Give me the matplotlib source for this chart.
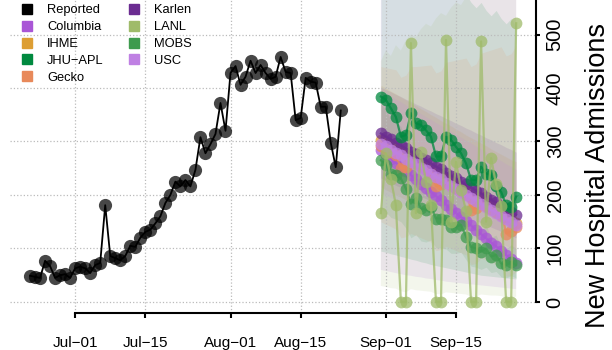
import numpy as np
import pandas as pd
import matplotlib
matplotlib.use('Agg')
import matplotlib.pyplot as plt
import matplotlib.dates as mdates
from matplotlib.patches import Patch

plt.rcParams['font.family'] = ['Liberation Sans', 'DejaVu Sans']

# observed daily admissions
reported_start = '2021-06-22'
reported = [49, 47, 45, 77, 67, 45, 50, 52, 45, 63, 66, 63, 54, 69, 73, 181, 86, 82, 78, 86,
            105, 103, 120, 131, 135, 147, 160, 185, 200,
            225, 216, 228, 216, 247, 308, 278, 295, 314, 372, 320, 428, 441, 406, 421, 451,
            428, 443, 428, 417, 421, 458, 430, 428, 340, 344, 419, 412, 410, 365, 365, 298, 252, 358]

# forecasts (Aug 31 - Sep 27)
forecast_start = '2021-08-31'
columbia = [284, 276, 268, 260, 253, 245, 237, 229, 221, 213, 205, 198, 190, 182,
            174, 166, 158, 151, 143, 135, 127, 119, 111, 104, 96, 88, 80, 72]
ihme = [302, 296, 290, 284, 278, 272, 266, 260, 254, 248, 242, 236, 230, 224,
        219, 213, 207, 201, 196, 190, 185, 179, 174, 168, 163, 158, 153, 148]
jhu_apl = [384, 378, 362, 346, 309, 312, 353, 334, 331, 321, 309, 272, 272, 309,
           303, 290, 278, 259, 228, 228, 253, 240, 237, 216, 206, 181, 178, 197]
gecko = [292, 286, 280, 275, 250, 252, 266, 260, 255, 249, 243, 216, 220, 232,
         226, 220, 214, 208, 172, 176, 196, 190, 184, 178, 172, 128, 132, 140]
karlen = [315, 309, 304, 298, 293, 287, 281, 276, 270, 265, 259, 253, 248, 242,
          236, 231, 225, 220, 214, 208, 203, 197, 191, 186, 180, 175, 169, 163]
lanl = [166, 278, 230, 181, 0, 0, 484, 166, 280, 225, 181, 0, 0, 490,
        150, 262, 210, 170, 0, 0, 487, 150, 269, 220, 180, 0, 0, 521]
mobs = [265, 256, 240, 237, 231, 212, 184, 194, 175, 172, 178, 156, 156, 153,
        141, 141, 144, 122, 103, 100, 94, 100, 85, 88, 72, 69, 75, 69]
usc = [296, 291, 285, 279, 274, 268, 262, 257, 251, 246, 240, 234, 229, 223,
       217, 212, 206, 200, 195, 189, 183, 178, 172, 167, 161, 155, 150, 144]

# prediction intervals
columbia_lo = [60, 58, 56, 54, 52, 50, 49, 47, 46, 44, 43, 41, 40, 38,
               37, 36, 35, 34, 33, 32, 31, 30, 29, 28, 27, 26, 25, 24]
columbia_hi = [620, 630, 640, 650, 655, 660, 665, 670, 675, 680, 685, 690, 690, 695,
               700, 700, 705, 705, 710, 710, 715, 715, 720, 720, 725, 725, 730, 730]
jhu_apl_lo = [95, 93, 90, 88, 85, 83, 80, 78, 75, 73, 70, 68, 66, 64,
              62, 60, 58, 56, 54, 52, 50, 49, 48, 47, 46, 45, 44, 43]
jhu_apl_hi = [600, 610, 595, 605, 590, 600, 610, 595, 585, 600, 590, 580, 595, 585,
              570, 580, 565, 575, 560, 550, 560, 545, 535, 545, 530, 520, 530, 515]
karlen_lo = [232, 227, 223, 218, 214, 210, 205, 201, 197, 193, 188, 184, 180, 176,
             172, 168, 164, 160, 156, 152, 148, 144, 140, 136, 132, 128, 124, 120]
karlen_hi = [402, 397, 393, 388, 384, 379, 375, 370, 366, 361, 357, 352, 348, 343,
             339, 334, 330, 325, 321, 316, 312, 307, 303, 298, 294, 289, 285, 280]
ihme_lo = [215, 210, 205, 200, 196, 191, 186, 182, 177, 172, 168, 163, 158, 154,
           150, 145, 141, 137, 133, 129, 125, 121, 117, 113, 109, 105, 101, 98]
ihme_hi = [405, 400, 394, 389, 383, 378, 372, 367, 361, 356, 350, 345, 339, 334,
           329, 323, 318, 312, 307, 302, 297, 292, 286, 281, 276, 271, 266, 262]
gecko_lo = [150, 145, 141, 136, 120, 122, 128, 124, 120, 116, 112, 96, 98, 104,
            100, 96, 92, 88, 70, 72, 82, 78, 74, 70, 66, 48, 50, 56]
gecko_hi = [440, 438, 436, 434, 420, 424, 440, 440, 441, 442, 443, 428, 432, 448,
            450, 452, 454, 456, 440, 445, 465, 468, 471, 474, 477, 460, 464, 480]
lanl_lo = [30, 28, 26, 25, 20, 18, 24, 22, 21, 20, 19, 15, 14, 18,
           17, 16, 15, 14, 10, 10, 14, 13, 12, 12, 11, 8, 8, 10]
lanl_hi = [450, 470, 460, 480, 470, 490, 500, 495, 510, 520, 515, 530, 540, 535,
           550, 560, 555, 570, 580, 590, 600, 610, 620, 640, 650, 660, 680, 700]
mobs_lo = [175, 168, 158, 155, 150, 138, 120, 126, 114, 112, 116, 101, 101, 99,
           91, 91, 93, 79, 67, 65, 61, 65, 55, 57, 47, 45, 49, 45]
mobs_hi = [370, 360, 340, 335, 328, 302, 262, 276, 250, 246, 254, 222, 222, 218,
           201, 201, 205, 174, 148, 143, 134, 143, 121, 125, 103, 99, 107, 99]
usc_lo = [205, 200, 195, 190, 186, 181, 176, 172, 167, 163, 158, 154, 149, 145,
          140, 136, 132, 127, 123, 119, 115, 111, 106, 102, 98, 94, 90, 86]
usc_hi = [395, 390, 385, 379, 374, 368, 363, 357, 352, 346, 341, 335, 330, 324,
          319, 313, 308, 302, 297, 291, 286, 280, 275, 269, 264, 258, 253, 248]

model_names = ['Columbia', 'IHME', 'JHU\u2212APL', 'Gecko', 'Karlen', 'LANL', 'MOBS', 'USC']
model_colors = ['#a956d6', '#dd9e33', '#00893f', '#e8895a', '#6b2c91', '#9fbb6a', '#3e9b4e', '#bf80e3']

series = {
    'Columbia': (columbia, columbia_lo, columbia_hi),
    'IHME': (ihme, ihme_lo, ihme_hi),
    'JHU\u2212APL': (jhu_apl, jhu_apl_lo, jhu_apl_hi),
    'Gecko': (gecko, gecko_lo, gecko_hi),
    'Karlen': (karlen, karlen_lo, karlen_hi),
    'LANL': (lanl, lanl_lo, lanl_hi),
    'MOBS': (mobs, mobs_lo, mobs_hi),
    'USC': (usc, usc_lo, usc_hi),
}
colors = dict(zip(model_names, model_colors))

tick_dates = ['2021-07-01', '2021-07-15', '2021-08-01', '2021-08-15', '2021-09-01', '2021-09-15']
tick_labels = ['Jul\u221201', 'Jul\u221215', 'Aug\u221201', 'Aug\u221215', 'Sep\u221201', 'Sep\u221215']
y_ticks = [0, 100, 200, 300, 400, 500]

rep_dates = pd.date_range(reported_start, periods=len(reported), freq='D')
fc_dates = pd.date_range(forecast_start, periods=len(columbia), freq='D')
tick_pos = mdates.date2num(pd.to_datetime(tick_dates))

fig = plt.figure(figsize=(6.12, 3.5), dpi=100)
ax = fig.add_axes([10 / 612, 37 / 350, 526 / 612, 313 / 350])

# intervals
for name in model_names:
    mid, lo, hi = series[name]
    ax.fill_between(fc_dates, lo, hi, color=colors[name], alpha=0.12, lw=0, zorder=1)

# grid
for t in tick_pos:
    ax.axvline(t, color='#bbbbbb', lw=0.9, ls=':', zorder=2)
for v in y_ticks:
    ax.axhline(v, color='#bbbbbb', lw=0.9, ls=':', zorder=2)

# observed
ax.plot(rep_dates, reported, color='black', lw=1.3, zorder=5)
ax.plot(rep_dates, reported, 'o', color='black', alpha=0.72, ms=9.5, mew=0, zorder=5)

# forecasts
draw_order = ['Columbia', 'IHME', 'Gecko', 'Karlen', 'USC', 'MOBS', 'JHU\u2212APL', 'LANL']
for i, name in enumerate(draw_order):
    mid = series[name][0]
    ax.plot(fc_dates, mid, '-o', color=colors[name], alpha=0.75, lw=1.6, ms=8.5, mew=0, zorder=6 + i)

x0 = mdates.date2num(pd.Timestamp('2021-06-18'))
x1 = mdates.date2num(pd.Timestamp('2021-09-30 23:00'))
ax.set_xlim(x0, x1)
ax.set_ylim(-20.6, 564.5)

ax.set_xticks(tick_pos)
ax.set_xticklabels(tick_labels, fontsize=11)
ax.yaxis.tick_right()
ax.set_yticks(y_ticks)
ax.set_yticklabels([str(v) for v in y_ticks], fontsize=14.5, rotation=90, va='center')

for s in ['top', 'left']:
    ax.spines[s].set_visible(False)
ax.spines['right'].set_linewidth(1.5)
ax.spines['bottom'].set_linewidth(1.5)
ax.spines['right'].set_bounds(0, 564.5)
ax.spines['bottom'].set_bounds(tick_pos[0], tick_pos[-1])
ax.tick_params(axis='x', length=3.6, width=1.5, pad=13)
ax.tick_params(axis='y', length=3, width=1.5, pad=4)
ax.patch.set_visible(False)

fig.text(611 / 612, 1 - 175 / 350, 'New Hospital Admissions', rotation=90,
         ha='right', va='center', fontsize=19.5)

handles = [Patch(color='black', label='Reported')]
for name in model_names:
    handles.append(Patch(color=colors[name], label=name))
ax.legend(handles=handles, ncol=2, loc='upper left', bbox_to_anchor=(12 / 526, 1 - 4 / 313),
          frameon=False, fontsize=9.3, handlelength=0.8, handleheight=0.8,
          handletextpad=1.15, columnspacing=1.95, labelspacing=0.34,
          borderpad=0, borderaxespad=0)

fig.savefig('out.png', dpi=100)
